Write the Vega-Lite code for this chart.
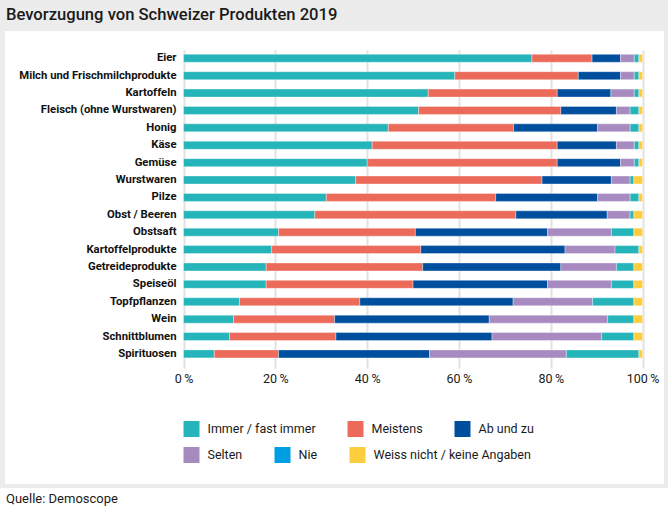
{
  "$schema": "https://vega.github.io/schema/vega-lite/v6.json",
  "background": "#ececec",
  "padding": {"left": 0, "top": 7, "right": 0, "bottom": 0},
  "bounds": "flush",
  "title": {
    "text": "Bevorzugung von Schweizer Produkten 2019",
    "anchor": "start",
    "frame": "group",
    "font": "Roboto",
    "fontSize": 16.6,
    "fontWeight": 500,
    "color": "#1a1a1a",
    "baseline": "top",
    "offset": 7,
    "dx": 1
  },
  "spacing": 9,
  "resolve": {"scale": {"x": "independent", "y": "independent"}},
  "config": {
    "legend": {
      "orient": "none",
      "direction": "horizontal",
      "columns": 3,
      "columnPadding": 31,
      "symbolType": "square",
      "symbolSize": 256,
      "symbolStrokeWidth": 0,
      "symbolOpacity": 1,
      "labelFont": "Roboto",
      "labelFontSize": 12.5,
      "labelColor": "#1a1a1a",
      "labelOffset": 8,
      "labelLimit": 0,
      "padding": 0
    }
  },
  "vconcat": [
    {
      "width": 659,
      "height": 453,
      "view": {"fill": "white", "stroke": null},
      "data": {
        "values": [
          {"p": "Eier", "c": "Immer / fast immer", "o": 1, "v": 75.9},
          {"p": "Eier", "c": "Meistens", "o": 2, "v": 13.1},
          {"p": "Eier", "c": "Ab und zu", "o": 3, "v": 6.2},
          {"p": "Eier", "c": "Selten", "o": 4, "v": 3.0},
          {"p": "Eier", "c": "Nie", "o": 5, "v": 1.0},
          {"p": "Eier", "c": "Weiss nicht / keine Angaben", "o": 6, "v": 0.8},
          {"p": "Milch und Frischmilchprodukte", "c": "Immer / fast immer", "o": 1, "v": 59.1},
          {"p": "Milch und Frischmilchprodukte", "c": "Meistens", "o": 2, "v": 26.9},
          {"p": "Milch und Frischmilchprodukte", "c": "Ab und zu", "o": 3, "v": 9.2},
          {"p": "Milch und Frischmilchprodukte", "c": "Selten", "o": 4, "v": 3.0},
          {"p": "Milch und Frischmilchprodukte", "c": "Nie", "o": 5, "v": 1.0},
          {"p": "Milch und Frischmilchprodukte", "c": "Weiss nicht / keine Angaben", "o": 6, "v": 0.8},
          {"p": "Kartoffeln", "c": "Immer / fast immer", "o": 1, "v": 53.3},
          {"p": "Kartoffeln", "c": "Meistens", "o": 2, "v": 28.1},
          {"p": "Kartoffeln", "c": "Ab und zu", "o": 3, "v": 11.7},
          {"p": "Kartoffeln", "c": "Selten", "o": 4, "v": 5.1},
          {"p": "Kartoffeln", "c": "Nie", "o": 5, "v": 1.0},
          {"p": "Kartoffeln", "c": "Weiss nicht / keine Angaben", "o": 6, "v": 0.8},
          {"p": "Fleisch (ohne Wurstwaren)", "c": "Immer / fast immer", "o": 1, "v": 51.2},
          {"p": "Fleisch (ohne Wurstwaren)", "c": "Meistens", "o": 2, "v": 31.0},
          {"p": "Fleisch (ohne Wurstwaren)", "c": "Ab und zu", "o": 3, "v": 12.1},
          {"p": "Fleisch (ohne Wurstwaren)", "c": "Selten", "o": 4, "v": 3.0},
          {"p": "Fleisch (ohne Wurstwaren)", "c": "Nie", "o": 5, "v": 1.9},
          {"p": "Fleisch (ohne Wurstwaren)", "c": "Weiss nicht / keine Angaben", "o": 6, "v": 0.8},
          {"p": "Honig", "c": "Immer / fast immer", "o": 1, "v": 44.6},
          {"p": "Honig", "c": "Meistens", "o": 2, "v": 27.3},
          {"p": "Honig", "c": "Ab und zu", "o": 3, "v": 18.3},
          {"p": "Honig", "c": "Selten", "o": 4, "v": 7.1},
          {"p": "Honig", "c": "Nie", "o": 5, "v": 1.9},
          {"p": "Honig", "c": "Weiss nicht / keine Angaben", "o": 6, "v": 0.8},
          {"p": "Käse", "c": "Immer / fast immer", "o": 1, "v": 41.1},
          {"p": "Käse", "c": "Meistens", "o": 2, "v": 40.3},
          {"p": "Käse", "c": "Ab und zu", "o": 3, "v": 12.9},
          {"p": "Käse", "c": "Selten", "o": 4, "v": 3.9},
          {"p": "Käse", "c": "Nie", "o": 5, "v": 1.0},
          {"p": "Käse", "c": "Weiss nicht / keine Angaben", "o": 6, "v": 0.8},
          {"p": "Gemüse", "c": "Immer / fast immer", "o": 1, "v": 40.0},
          {"p": "Gemüse", "c": "Meistens", "o": 2, "v": 41.4},
          {"p": "Gemüse", "c": "Ab und zu", "o": 3, "v": 13.8},
          {"p": "Gemüse", "c": "Selten", "o": 4, "v": 3.0},
          {"p": "Gemüse", "c": "Nie", "o": 5, "v": 1.0},
          {"p": "Gemüse", "c": "Weiss nicht / keine Angaben", "o": 6, "v": 0.8},
          {"p": "Wurstwaren", "c": "Immer / fast immer", "o": 1, "v": 37.5},
          {"p": "Wurstwaren", "c": "Meistens", "o": 2, "v": 40.6},
          {"p": "Wurstwaren", "c": "Ab und zu", "o": 3, "v": 15.1},
          {"p": "Wurstwaren", "c": "Selten", "o": 4, "v": 4.1},
          {"p": "Wurstwaren", "c": "Nie", "o": 5, "v": 0.8},
          {"p": "Wurstwaren", "c": "Weiss nicht / keine Angaben", "o": 6, "v": 1.9},
          {"p": "Pilze", "c": "Immer / fast immer", "o": 1, "v": 31.1},
          {"p": "Pilze", "c": "Meistens", "o": 2, "v": 36.9},
          {"p": "Pilze", "c": "Ab und zu", "o": 3, "v": 22.2},
          {"p": "Pilze", "c": "Selten", "o": 4, "v": 7.1},
          {"p": "Pilze", "c": "Nie", "o": 5, "v": 1.9},
          {"p": "Pilze", "c": "Weiss nicht / keine Angaben", "o": 6, "v": 0.8},
          {"p": "Obst / Beeren", "c": "Immer / fast immer", "o": 1, "v": 28.6},
          {"p": "Obst / Beeren", "c": "Meistens", "o": 2, "v": 43.8},
          {"p": "Obst / Beeren", "c": "Ab und zu", "o": 3, "v": 19.9},
          {"p": "Obst / Beeren", "c": "Selten", "o": 4, "v": 5.0},
          {"p": "Obst / Beeren", "c": "Nie", "o": 5, "v": 0.8},
          {"p": "Obst / Beeren", "c": "Weiss nicht / keine Angaben", "o": 6, "v": 1.9},
          {"p": "Obstsaft", "c": "Immer / fast immer", "o": 1, "v": 20.7},
          {"p": "Obstsaft", "c": "Meistens", "o": 2, "v": 29.8},
          {"p": "Obstsaft", "c": "Ab und zu", "o": 3, "v": 28.8},
          {"p": "Obstsaft", "c": "Selten", "o": 4, "v": 13.9},
          {"p": "Obstsaft", "c": "Nie", "o": 5, "v": 4.9},
          {"p": "Obstsaft", "c": "Weiss nicht / keine Angaben", "o": 6, "v": 1.9},
          {"p": "Kartoffelprodukte", "c": "Immer / fast immer", "o": 1, "v": 19.2},
          {"p": "Kartoffelprodukte", "c": "Meistens", "o": 2, "v": 32.5},
          {"p": "Kartoffelprodukte", "c": "Ab und zu", "o": 3, "v": 31.4},
          {"p": "Kartoffelprodukte", "c": "Selten", "o": 4, "v": 10.9},
          {"p": "Kartoffelprodukte", "c": "Nie", "o": 5, "v": 5.2},
          {"p": "Kartoffelprodukte", "c": "Weiss nicht / keine Angaben", "o": 6, "v": 0.8},
          {"p": "Getreideprodukte", "c": "Immer / fast immer", "o": 1, "v": 18.0},
          {"p": "Getreideprodukte", "c": "Meistens", "o": 2, "v": 34.1},
          {"p": "Getreideprodukte", "c": "Ab und zu", "o": 3, "v": 30.1},
          {"p": "Getreideprodukte", "c": "Selten", "o": 4, "v": 12.1},
          {"p": "Getreideprodukte", "c": "Nie", "o": 5, "v": 3.8},
          {"p": "Getreideprodukte", "c": "Weiss nicht / keine Angaben", "o": 6, "v": 1.9},
          {"p": "Speiseöl", "c": "Immer / fast immer", "o": 1, "v": 18.0},
          {"p": "Speiseöl", "c": "Meistens", "o": 2, "v": 32.0},
          {"p": "Speiseöl", "c": "Ab und zu", "o": 3, "v": 29.3},
          {"p": "Speiseöl", "c": "Selten", "o": 4, "v": 13.9},
          {"p": "Speiseöl", "c": "Nie", "o": 5, "v": 4.9},
          {"p": "Speiseöl", "c": "Weiss nicht / keine Angaben", "o": 6, "v": 1.9},
          {"p": "Topfpflanzen", "c": "Immer / fast immer", "o": 1, "v": 12.2},
          {"p": "Topfpflanzen", "c": "Meistens", "o": 2, "v": 26.2},
          {"p": "Topfpflanzen", "c": "Ab und zu", "o": 3, "v": 33.4},
          {"p": "Topfpflanzen", "c": "Selten", "o": 4, "v": 17.3},
          {"p": "Topfpflanzen", "c": "Nie", "o": 5, "v": 9.0},
          {"p": "Topfpflanzen", "c": "Weiss nicht / keine Angaben", "o": 6, "v": 1.9},
          {"p": "Wein", "c": "Immer / fast immer", "o": 1, "v": 10.9},
          {"p": "Wein", "c": "Meistens", "o": 2, "v": 22.0},
          {"p": "Wein", "c": "Ab und zu", "o": 3, "v": 33.7},
          {"p": "Wein", "c": "Selten", "o": 4, "v": 25.8},
          {"p": "Wein", "c": "Nie", "o": 5, "v": 5.7},
          {"p": "Wein", "c": "Weiss nicht / keine Angaben", "o": 6, "v": 1.9},
          {"p": "Schnittblumen", "c": "Immer / fast immer", "o": 1, "v": 10.0},
          {"p": "Schnittblumen", "c": "Meistens", "o": 2, "v": 23.2},
          {"p": "Schnittblumen", "c": "Ab und zu", "o": 3, "v": 34.0},
          {"p": "Schnittblumen", "c": "Selten", "o": 4, "v": 23.9},
          {"p": "Schnittblumen", "c": "Nie", "o": 5, "v": 7.0},
          {"p": "Schnittblumen", "c": "Weiss nicht / keine Angaben", "o": 6, "v": 1.9},
          {"p": "Spirituosen", "c": "Immer / fast immer", "o": 1, "v": 6.7},
          {"p": "Spirituosen", "c": "Meistens", "o": 2, "v": 14.0},
          {"p": "Spirituosen", "c": "Ab und zu", "o": 3, "v": 32.9},
          {"p": "Spirituosen", "c": "Selten", "o": 4, "v": 29.8},
          {"p": "Spirituosen", "c": "Nie", "o": 5, "v": 15.8},
          {"p": "Spirituosen", "c": "Weiss nicht / keine Angaben", "o": 6, "v": 0.8}
        ]
      },
      "encoding": {
        "y": {
          "field": "p",
          "type": "nominal",
          "sort": null,
          "scale": {"range": [14.6, 335.6], "paddingInner": 0.54, "paddingOuter": 0.5},
          "axis": {
            "orient": "left",
            "offset": -171,
            "domain": false,
            "ticks": false,
            "tickSize": 0,
            "labelPadding": 0,
            "labelFont": "Roboto",
            "labelFontSize": 11.3,
            "labelFontWeight": "bold",
            "labelColor": "#111111",
            "labelLimit": 0,
            "grid": false,
            "title": null
          }
        },
        "x": {
          "field": "v",
          "type": "quantitative",
          "stack": "zero",
          "scale": {"domain": [-38.9, 104.67], "nice": false, "zero": false},
          "axis": {
            "values": [0, 20, 40, 60, 80, 100],
            "labelExpr": "datum.value + '\u2009%'",
            "domain": false,
            "grid": false,
            "ticks": true,
            "tickSize": -318,
            "tickColor": "#e2e2e2",
            "tickWidth": 2,
            "offset": -116,
            "labelPadding": 322,
            "labelFlush": false,
            "labelFont": "Roboto",
            "labelFontSize": 12.5,
            "labelColor": "#1a1a1a",
            "title": null
          }
        },
        "order": {"field": "o", "type": "quantitative"}
      },
      "layer": [
        {
          "mark": {"type": "bar", "stroke": "#ffffff", "strokeWidth": 0.5, "strokeOpacity": 0.7},
          "encoding": {
            "color": {
              "condition": {"test": "datum.c === 'Nie'", "value": "#25b4b9"},
              "field": "c",
              "type": "nominal",
              "scale": {
                "domain": ["Immer / fast immer", "Meistens", "Ab und zu", "Selten", "Nie", "Weiss nicht / keine Angaben"],
                "range": ["#25b4b9", "#ec6a5a", "#004f9f", "#a78bc0", "#009fe3", "#fecd3e"]
              },
              "legend": {
                "values": ["Immer / fast immer", "Meistens", "Ab und zu"],
                "legendX": 178.5,
                "legendY": 390,
                "title": null
              }
            }
          }
        },
        {
          "mark": {"type": "bar", "opacity": 0},
          "encoding": {
            "color": {
              "field": "c",
              "type": "nominal",
              "scale": {
                "domain": ["Immer / fast immer", "Meistens", "Ab und zu", "Selten", "Nie", "Weiss nicht / keine Angaben"],
                "range": ["#25b4b9", "#ec6a5a", "#004f9f", "#a78bc0", "#009fe3", "#fecd3e"]
              },
              "legend": {
                "values": ["Selten", "Nie", "Weiss nicht / keine Angaben"],
                "legendX": 178.5,
                "legendY": 416,
                "columnPadding": 32,
                "title": null
              }
            }
          }
        }
      ],
      "resolve": {"scale": {"color": "independent"}, "legend": {"color": "independent"}}
    },
    {
      "width": 659,
      "height": 22,
      "view": {"fill": "white", "stroke": "white", "strokeWidth": 10},
      "data": {"values": [{"t": "Quelle: Demoscope"}]},
      "mark": {"type": "text", "align": "left", "baseline": "middle", "dx": 1, "dy": -5, "font": "Roboto", "fontSize": 13, "color": "#1a1a1a"},
      "encoding": {
        "text": {"field": "t", "type": "nominal"},
        "x": {"datum": 0, "type": "quantitative", "scale": {"domain": [0, 1]}, "axis": null}
      }
    }
  ]
}
